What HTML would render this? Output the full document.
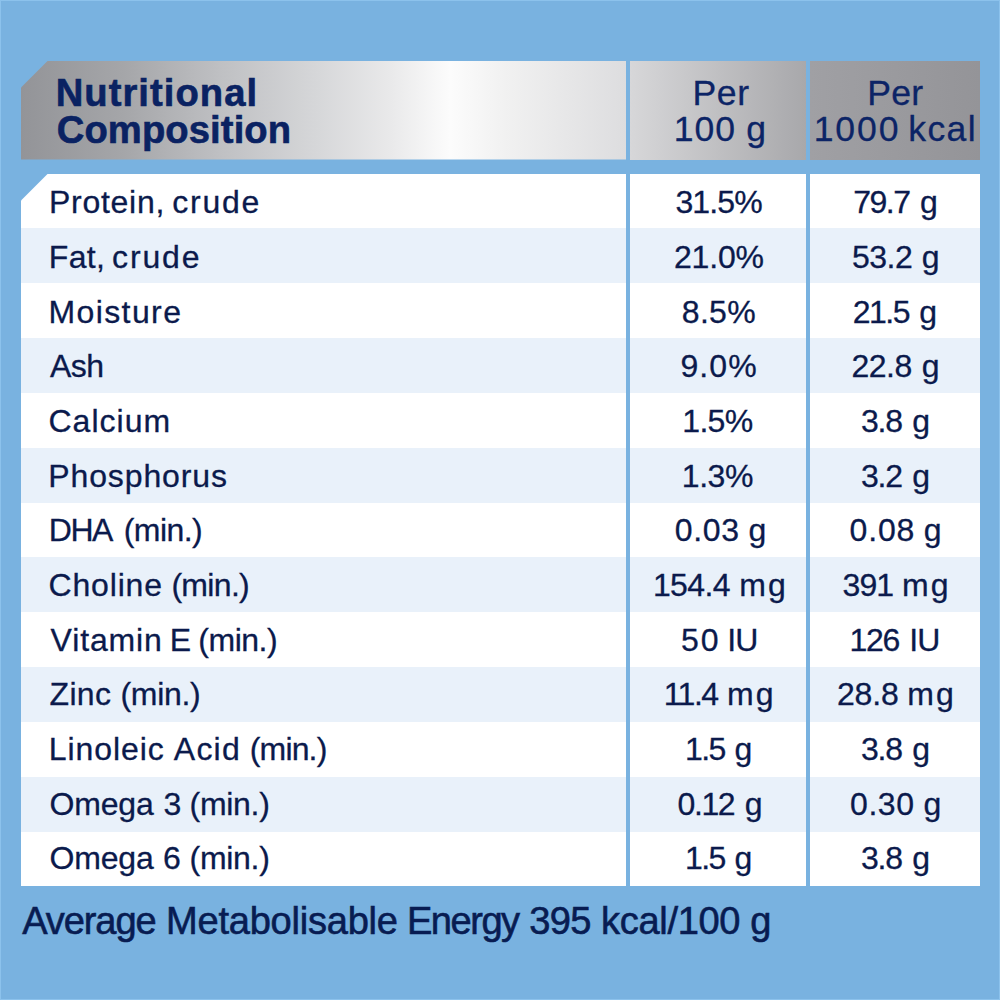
<!DOCTYPE html>
<html><head><meta charset="utf-8"><style>
html,body{margin:0;padding:0;}
body{width:1000px;height:1000px;overflow:hidden;position:relative;background:#79b2e0;font-family:"Liberation Sans",sans-serif;}
.a{position:absolute;}
.t{position:absolute;white-space:nowrap;line-height:50px;height:50px;}
</style></head><body>
<div class="a" style="left:0;top:0;width:1000px;height:1px;background:#8cc2ec"></div>
<div class="a" style="left:0;top:0;width:1px;height:1000px;background:#8cc2ec"></div>
<div class="a" style="left:999px;top:0;width:1px;height:1000px;background:#8cc2ec"></div>
<div class="a" style="left:0;top:999px;width:1000px;height:1px;background:#8cc2ec"></div>
<div class="a" style="left:21px;top:60.5px;width:605px;height:99.1px;background:linear-gradient(90deg,#939498 0%,#a5a6a9 17%,#bfc0c3 33%,#d6d7d9 49%,#e9e9ea 61%,#fcfcfc 71%,#f1f1f1 80%,#dddddf 100%);clip-path:polygon(27px 0,100% 0,100% 100%,0 100%,0 27px);"></div>
<div class="a" style="left:630px;top:60.5px;width:176px;height:99.1px;background:linear-gradient(90deg,#d7d7d9 0%,#a8a8ab 100%)"></div>
<div class="a" style="left:810px;top:60.5px;width:170px;height:99.1px;background:linear-gradient(90deg,#a0a0a4 0%,#949498 100%)"></div>
<div class="a" style="left:21px;top:173.50px;width:605px;height:54.84px;background:#ffffff;clip-path:polygon(27px 0,100% 0,100% 100%,0 100%,0 27px);"></div>
<div class="a" style="left:630px;top:173.50px;width:176px;height:54.84px;background:#ffffff;"></div>
<div class="a" style="left:810px;top:173.50px;width:170px;height:54.84px;background:#ffffff;"></div>
<div class="a" style="left:21px;top:228.34px;width:605px;height:54.84px;background:#e9f1fa;"></div>
<div class="a" style="left:630px;top:228.34px;width:176px;height:54.84px;background:#e9f1fa;"></div>
<div class="a" style="left:810px;top:228.34px;width:170px;height:54.84px;background:#e9f1fa;"></div>
<div class="a" style="left:21px;top:283.18px;width:605px;height:54.84px;background:#ffffff;"></div>
<div class="a" style="left:630px;top:283.18px;width:176px;height:54.84px;background:#ffffff;"></div>
<div class="a" style="left:810px;top:283.18px;width:170px;height:54.84px;background:#ffffff;"></div>
<div class="a" style="left:21px;top:338.02px;width:605px;height:54.84px;background:#e9f1fa;"></div>
<div class="a" style="left:630px;top:338.02px;width:176px;height:54.84px;background:#e9f1fa;"></div>
<div class="a" style="left:810px;top:338.02px;width:170px;height:54.84px;background:#e9f1fa;"></div>
<div class="a" style="left:21px;top:392.85px;width:605px;height:54.84px;background:#ffffff;"></div>
<div class="a" style="left:630px;top:392.85px;width:176px;height:54.84px;background:#ffffff;"></div>
<div class="a" style="left:810px;top:392.85px;width:170px;height:54.84px;background:#ffffff;"></div>
<div class="a" style="left:21px;top:447.69px;width:605px;height:54.84px;background:#e9f1fa;"></div>
<div class="a" style="left:630px;top:447.69px;width:176px;height:54.84px;background:#e9f1fa;"></div>
<div class="a" style="left:810px;top:447.69px;width:170px;height:54.84px;background:#e9f1fa;"></div>
<div class="a" style="left:21px;top:502.53px;width:605px;height:54.84px;background:#ffffff;"></div>
<div class="a" style="left:630px;top:502.53px;width:176px;height:54.84px;background:#ffffff;"></div>
<div class="a" style="left:810px;top:502.53px;width:170px;height:54.84px;background:#ffffff;"></div>
<div class="a" style="left:21px;top:557.37px;width:605px;height:54.84px;background:#e9f1fa;"></div>
<div class="a" style="left:630px;top:557.37px;width:176px;height:54.84px;background:#e9f1fa;"></div>
<div class="a" style="left:810px;top:557.37px;width:170px;height:54.84px;background:#e9f1fa;"></div>
<div class="a" style="left:21px;top:612.21px;width:605px;height:54.84px;background:#ffffff;"></div>
<div class="a" style="left:630px;top:612.21px;width:176px;height:54.84px;background:#ffffff;"></div>
<div class="a" style="left:810px;top:612.21px;width:170px;height:54.84px;background:#ffffff;"></div>
<div class="a" style="left:21px;top:667.05px;width:605px;height:54.84px;background:#e9f1fa;"></div>
<div class="a" style="left:630px;top:667.05px;width:176px;height:54.84px;background:#e9f1fa;"></div>
<div class="a" style="left:810px;top:667.05px;width:170px;height:54.84px;background:#e9f1fa;"></div>
<div class="a" style="left:21px;top:721.88px;width:605px;height:54.84px;background:#ffffff;"></div>
<div class="a" style="left:630px;top:721.88px;width:176px;height:54.84px;background:#ffffff;"></div>
<div class="a" style="left:810px;top:721.88px;width:170px;height:54.84px;background:#ffffff;"></div>
<div class="a" style="left:21px;top:776.72px;width:605px;height:54.84px;background:#e9f1fa;"></div>
<div class="a" style="left:630px;top:776.72px;width:176px;height:54.84px;background:#e9f1fa;"></div>
<div class="a" style="left:810px;top:776.72px;width:170px;height:54.84px;background:#e9f1fa;"></div>
<div class="a" style="left:21px;top:831.56px;width:605px;height:54.84px;background:#ffffff;"></div>
<div class="a" style="left:630px;top:831.56px;width:176px;height:54.84px;background:#ffffff;"></div>
<div class="a" style="left:810px;top:831.56px;width:170px;height:54.84px;background:#ffffff;"></div>
<div class="t" style="left:49.0px;top:177.2px;font-size:32.0px;letter-spacing:0.714px;-webkit-text-stroke:0.3px #0b1a4c;color:#0b1a4c">Protein,</div>
<div class="t" style="left:172.35px;top:177.2px;font-size:32.0px;letter-spacing:1.75px;-webkit-text-stroke:0.3px #0b1a4c;color:#0b1a4c">crude</div>
<div class="t" style="left:675.4px;top:177.2px;font-size:32.0px;letter-spacing:-0.85px;-webkit-text-stroke:0.3px #0b1a4c;color:#0b1a4c">31.5%</div>
<div class="t" style="left:853.2px;top:177.2px;font-size:32.0px;letter-spacing:-1.467px;-webkit-text-stroke:0.3px #0b1a4c;color:#0b1a4c">79.7</div>
<div class="t" style="left:920.1px;top:177.2px;font-size:32.0px;letter-spacing:0.0px;-webkit-text-stroke:0.3px #0b1a4c;color:#0b1a4c">g</div>
<div class="t" style="left:48.75px;top:231.88px;font-size:32.0px;letter-spacing:0.333px;-webkit-text-stroke:0.3px #0b1a4c;color:#0b1a4c">Fat,</div>
<div class="t" style="left:112.1px;top:231.88px;font-size:32.0px;letter-spacing:1.85px;-webkit-text-stroke:0.3px #0b1a4c;color:#0b1a4c">crude</div>
<div class="t" style="left:673.9px;top:231.88px;font-size:32.0px;letter-spacing:-0.15px;-webkit-text-stroke:0.3px #0b1a4c;color:#0b1a4c">21.0%</div>
<div class="t" style="left:852.1px;top:231.88px;font-size:32.0px;letter-spacing:-0.533px;-webkit-text-stroke:0.3px #0b1a4c;color:#0b1a4c">53.2</div>
<div class="t" style="left:921.7px;top:231.88px;font-size:32.0px;letter-spacing:0.0px;-webkit-text-stroke:0.3px #0b1a4c;color:#0b1a4c">g</div>
<div class="t" style="left:48.45px;top:286.56px;font-size:32.0px;letter-spacing:1.4px;-webkit-text-stroke:0.3px #0b1a4c;color:#0b1a4c">Moisture</div>
<div class="t" style="left:681.75px;top:286.56px;font-size:32.0px;letter-spacing:0.333px;-webkit-text-stroke:0.3px #0b1a4c;color:#0b1a4c">8.5%</div>
<div class="t" style="left:852.75px;top:286.56px;font-size:32.0px;letter-spacing:-1.5px;-webkit-text-stroke:0.3px #0b1a4c;color:#0b1a4c">21.5</div>
<div class="t" style="left:919.3px;top:286.56px;font-size:32.0px;letter-spacing:0.0px;-webkit-text-stroke:0.3px #0b1a4c;color:#0b1a4c">g</div>
<div class="t" style="left:50.0px;top:341.24px;font-size:32.0px;letter-spacing:-0.6px;-webkit-text-stroke:0.3px #0b1a4c;color:#0b1a4c">Ash</div>
<div class="t" style="left:680.4px;top:341.24px;font-size:32.0px;letter-spacing:1.134px;-webkit-text-stroke:0.3px #0b1a4c;color:#0b1a4c">9.0%</div>
<div class="t" style="left:851.6px;top:341.24px;font-size:32.0px;letter-spacing:-0.533px;-webkit-text-stroke:0.3px #0b1a4c;color:#0b1a4c">22.8</div>
<div class="t" style="left:921.7px;top:341.24px;font-size:32.0px;letter-spacing:0.0px;-webkit-text-stroke:0.3px #0b1a4c;color:#0b1a4c">g</div>
<div class="t" style="left:48.5px;top:395.92px;font-size:32.0px;letter-spacing:1.0px;-webkit-text-stroke:0.3px #0b1a4c;color:#0b1a4c">Calcium</div>
<div class="t" style="left:682.25px;top:395.92px;font-size:32.0px;letter-spacing:-0.667px;-webkit-text-stroke:0.3px #0b1a4c;color:#0b1a4c">1.5%</div>
<div class="t" style="left:860.9px;top:395.92px;font-size:32.0px;letter-spacing:-1.2px;-webkit-text-stroke:0.3px #0b1a4c;color:#0b1a4c">3.8</div>
<div class="t" style="left:912.3px;top:395.92px;font-size:32.0px;letter-spacing:0.0px;-webkit-text-stroke:0.3px #0b1a4c;color:#0b1a4c">g</div>
<div class="t" style="left:48.25px;top:450.6px;font-size:32.0px;letter-spacing:0.889px;-webkit-text-stroke:0.3px #0b1a4c;color:#0b1a4c">Phosphorus</div>
<div class="t" style="left:681.85px;top:450.6px;font-size:32.0px;letter-spacing:-0.467px;-webkit-text-stroke:0.3px #0b1a4c;color:#0b1a4c">1.3%</div>
<div class="t" style="left:860.9px;top:450.6px;font-size:32.0px;letter-spacing:-1.2px;-webkit-text-stroke:0.3px #0b1a4c;color:#0b1a4c">3.2</div>
<div class="t" style="left:912.3px;top:450.6px;font-size:32.0px;letter-spacing:0.0px;-webkit-text-stroke:0.3px #0b1a4c;color:#0b1a4c">g</div>
<div class="t" style="left:48.8px;top:505.28px;font-size:32.0px;letter-spacing:-1.5px;-webkit-text-stroke:0.3px #0b1a4c;color:#0b1a4c">DHA</div>
<div class="t" style="left:123.7px;top:505.28px;font-size:32.0px;letter-spacing:-0.56px;-webkit-text-stroke:0.3px #0b1a4c;color:#0b1a4c">(min.)</div>
<div class="t" style="left:674.75px;top:505.28px;font-size:32.0px;letter-spacing:0.666px;-webkit-text-stroke:0.3px #0b1a4c;color:#0b1a4c">0.03</div>
<div class="t" style="left:748.5px;top:505.28px;font-size:32.0px;letter-spacing:0.0px;-webkit-text-stroke:0.3px #0b1a4c;color:#0b1a4c">g</div>
<div class="t" style="left:849.6px;top:505.28px;font-size:32.0px;letter-spacing:0.8px;-webkit-text-stroke:0.3px #0b1a4c;color:#0b1a4c">0.08</div>
<div class="t" style="left:923.7px;top:505.28px;font-size:32.0px;letter-spacing:0.0px;-webkit-text-stroke:0.3px #0b1a4c;color:#0b1a4c">g</div>
<div class="t" style="left:48.5px;top:559.96px;font-size:32.0px;letter-spacing:0.833px;-webkit-text-stroke:0.3px #0b1a4c;color:#0b1a4c">Choline</div>
<div class="t" style="left:171.4px;top:559.96px;font-size:32.0px;letter-spacing:-0.68px;-webkit-text-stroke:0.3px #0b1a4c;color:#0b1a4c">(min.)</div>
<div class="t" style="left:652.9px;top:559.96px;font-size:32.0px;letter-spacing:-0.6px;-webkit-text-stroke:0.3px #0b1a4c;color:#0b1a4c">154.4</div>
<div class="t" style="left:739.2px;top:559.96px;font-size:32.0px;letter-spacing:2.2px;-webkit-text-stroke:0.3px #0b1a4c;color:#0b1a4c">mg</div>
<div class="t" style="left:842.55px;top:559.96px;font-size:32.0px;letter-spacing:-0.9px;-webkit-text-stroke:0.3px #0b1a4c;color:#0b1a4c">391</div>
<div class="t" style="left:902.0px;top:559.96px;font-size:32.0px;letter-spacing:2.2px;-webkit-text-stroke:0.3px #0b1a4c;color:#0b1a4c">mg</div>
<div class="t" style="left:50.55px;top:614.64px;font-size:32.0px;letter-spacing:0.867px;-webkit-text-stroke:0.3px #0b1a4c;color:#0b1a4c">Vitamin</div>
<div class="t" style="left:169.8px;top:614.64px;font-size:32.0px;letter-spacing:0.0px;-webkit-text-stroke:0.3px #0b1a4c;color:#0b1a4c">E</div>
<div class="t" style="left:198.3px;top:614.64px;font-size:32.0px;letter-spacing:-0.48px;-webkit-text-stroke:0.3px #0b1a4c;color:#0b1a4c">(min.)</div>
<div class="t" style="left:681.05px;top:614.64px;font-size:32.0px;letter-spacing:2.0px;-webkit-text-stroke:0.3px #0b1a4c;color:#0b1a4c">50</div>
<div class="t" style="left:727.2px;top:614.64px;font-size:32.0px;letter-spacing:-0.8px;-webkit-text-stroke:0.3px #0b1a4c;color:#0b1a4c">IU</div>
<div class="t" style="left:849.45px;top:614.64px;font-size:32.0px;letter-spacing:-1.3px;-webkit-text-stroke:0.3px #0b1a4c;color:#0b1a4c">126</div>
<div class="t" style="left:909.2px;top:614.64px;font-size:32.0px;letter-spacing:-0.8px;-webkit-text-stroke:0.3px #0b1a4c;color:#0b1a4c">IU</div>
<div class="t" style="left:49.5px;top:669.32px;font-size:32.0px;letter-spacing:0.333px;-webkit-text-stroke:0.3px #0b1a4c;color:#0b1a4c">Zinc</div>
<div class="t" style="left:120.4px;top:669.32px;font-size:32.0px;letter-spacing:-0.28px;-webkit-text-stroke:0.3px #0b1a4c;color:#0b1a4c">(min.)</div>
<div class="t" style="left:663.7px;top:669.32px;font-size:32.0px;letter-spacing:-1.5px;-webkit-text-stroke:0.3px #0b1a4c;color:#0b1a4c">11.4</div>
<div class="t" style="left:727.0px;top:669.32px;font-size:32.0px;letter-spacing:2.2px;-webkit-text-stroke:0.3px #0b1a4c;color:#0b1a4c">mg</div>
<div class="t" style="left:836.9px;top:669.32px;font-size:32.0px;letter-spacing:-0.134px;-webkit-text-stroke:0.3px #0b1a4c;color:#0b1a4c">28.8</div>
<div class="t" style="left:907.2px;top:669.32px;font-size:32.0px;letter-spacing:2.2px;-webkit-text-stroke:0.3px #0b1a4c;color:#0b1a4c">mg</div>
<div class="t" style="left:48.85px;top:724.0px;font-size:32.0px;letter-spacing:0.914px;-webkit-text-stroke:0.3px #0b1a4c;color:#0b1a4c">Linoleic</div>
<div class="t" style="left:173.85px;top:724.0px;font-size:32.0px;letter-spacing:1.2px;-webkit-text-stroke:0.3px #0b1a4c;color:#0b1a4c">Acid</div>
<div class="t" style="left:249.75px;top:724.0px;font-size:32.0px;letter-spacing:-0.84px;-webkit-text-stroke:0.3px #0b1a4c;color:#0b1a4c">(min.)</div>
<div class="t" style="left:684.9px;top:724.0px;font-size:32.0px;letter-spacing:-1.5px;-webkit-text-stroke:0.3px #0b1a4c;color:#0b1a4c">1.5</div>
<div class="t" style="left:734.5px;top:724.0px;font-size:32.0px;letter-spacing:0.0px;-webkit-text-stroke:0.3px #0b1a4c;color:#0b1a4c">g</div>
<div class="t" style="left:860.9px;top:724.0px;font-size:32.0px;letter-spacing:-1.2px;-webkit-text-stroke:0.3px #0b1a4c;color:#0b1a4c">3.8</div>
<div class="t" style="left:912.3px;top:724.0px;font-size:32.0px;letter-spacing:0.0px;-webkit-text-stroke:0.3px #0b1a4c;color:#0b1a4c">g</div>
<div class="t" style="left:49.55px;top:778.68px;font-size:32.0px;letter-spacing:-0.2px;-webkit-text-stroke:0.3px #0b1a4c;color:#0b1a4c">Omega</div>
<div class="t" style="left:163.4px;top:778.68px;font-size:32.0px;letter-spacing:0.0px;-webkit-text-stroke:0.3px #0b1a4c;color:#0b1a4c">3</div>
<div class="t" style="left:189.5px;top:778.68px;font-size:32.0px;letter-spacing:-0.28px;-webkit-text-stroke:0.3px #0b1a4c;color:#0b1a4c">(min.)</div>
<div class="t" style="left:677.6px;top:778.68px;font-size:32.0px;letter-spacing:-1.433px;-webkit-text-stroke:0.3px #0b1a4c;color:#0b1a4c">0.12</div>
<div class="t" style="left:744.7px;top:778.68px;font-size:32.0px;letter-spacing:0.0px;-webkit-text-stroke:0.3px #0b1a4c;color:#0b1a4c">g</div>
<div class="t" style="left:850.1px;top:778.68px;font-size:32.0px;letter-spacing:0.533px;-webkit-text-stroke:0.3px #0b1a4c;color:#0b1a4c">0.30</div>
<div class="t" style="left:923.5px;top:778.68px;font-size:32.0px;letter-spacing:0.0px;-webkit-text-stroke:0.3px #0b1a4c;color:#0b1a4c">g</div>
<div class="t" style="left:49.55px;top:833.36px;font-size:32.0px;letter-spacing:-0.2px;-webkit-text-stroke:0.3px #0b1a4c;color:#0b1a4c">Omega</div>
<div class="t" style="left:162.9px;top:833.36px;font-size:32.0px;letter-spacing:0.0px;-webkit-text-stroke:0.3px #0b1a4c;color:#0b1a4c">6</div>
<div class="t" style="left:189.5px;top:833.36px;font-size:32.0px;letter-spacing:-0.28px;-webkit-text-stroke:0.3px #0b1a4c;color:#0b1a4c">(min.)</div>
<div class="t" style="left:684.9px;top:833.36px;font-size:32.0px;letter-spacing:-1.5px;-webkit-text-stroke:0.3px #0b1a4c;color:#0b1a4c">1.5</div>
<div class="t" style="left:734.5px;top:833.36px;font-size:32.0px;letter-spacing:0.0px;-webkit-text-stroke:0.3px #0b1a4c;color:#0b1a4c">g</div>
<div class="t" style="left:860.9px;top:833.36px;font-size:32.0px;letter-spacing:-1.2px;-webkit-text-stroke:0.3px #0b1a4c;color:#0b1a4c">3.8</div>
<div class="t" style="left:912.3px;top:833.36px;font-size:32.0px;letter-spacing:0.0px;-webkit-text-stroke:0.3px #0b1a4c;color:#0b1a4c">g</div>
<div class="t" style="left:692.4px;top:67.7px;font-size:35.6px;letter-spacing:0.7px;-webkit-text-stroke:0.3px #0c2466;color:#0c2466">Per</div>
<div class="t" style="left:673.75px;top:103.5px;font-size:35.6px;letter-spacing:1.0px;-webkit-text-stroke:0.3px #0c2466;color:#0c2466">100</div>
<div class="t" style="left:746.25px;top:103.5px;font-size:35.6px;letter-spacing:0.0px;-webkit-text-stroke:0.3px #0c2466;color:#0c2466">g</div>
<div class="t" style="left:867.25px;top:67.7px;font-size:35.6px;letter-spacing:0.2px;-webkit-text-stroke:0.3px #0c2466;color:#0c2466">Per</div>
<div class="t" style="left:813.7px;top:103.5px;font-size:35.6px;letter-spacing:1.866px;-webkit-text-stroke:0.3px #0c2466;color:#0c2466">1000</div>
<div class="t" style="left:908.3px;top:103.5px;font-size:35.6px;letter-spacing:1.333px;-webkit-text-stroke:0.3px #0c2466;color:#0c2466">kcal</div>
<div class="t" style="left:55.65px;top:67.8px;font-size:38.2px;letter-spacing:1.06px;font-weight:bold;-webkit-text-stroke:0.6px #0a2262;color:#0a2262">Nutritional</div>
<div class="t" style="left:56.75px;top:105.0px;font-size:38.2px;letter-spacing:0.1px;font-weight:bold;-webkit-text-stroke:0.6px #0a2262;color:#0a2262">Composition</div>
<div class="t" style="left:22.15px;top:896.3px;font-size:38.1px;letter-spacing:-1.1px;-webkit-text-stroke:0.6px #081c52;color:#081c52">Average</div>
<div class="t" style="left:166.0px;top:896.3px;font-size:38.1px;letter-spacing:-0.25px;-webkit-text-stroke:0.6px #081c52;color:#081c52">Metabolisable</div>
<div class="t" style="left:406.9px;top:896.3px;font-size:38.1px;letter-spacing:-1.48px;-webkit-text-stroke:0.6px #081c52;color:#081c52">Energy</div>
<div class="t" style="left:529.3px;top:896.3px;font-size:38.1px;letter-spacing:-0.7px;-webkit-text-stroke:0.6px #081c52;color:#081c52">395</div>
<div class="t" style="left:601.1px;top:896.3px;font-size:38.1px;letter-spacing:-0.343px;-webkit-text-stroke:0.6px #081c52;color:#081c52">kcal/100</div>
<div class="t" style="left:750.15px;top:896.3px;font-size:38.1px;letter-spacing:0.0px;-webkit-text-stroke:0.6px #081c52;color:#081c52">g</div>
</body></html>
